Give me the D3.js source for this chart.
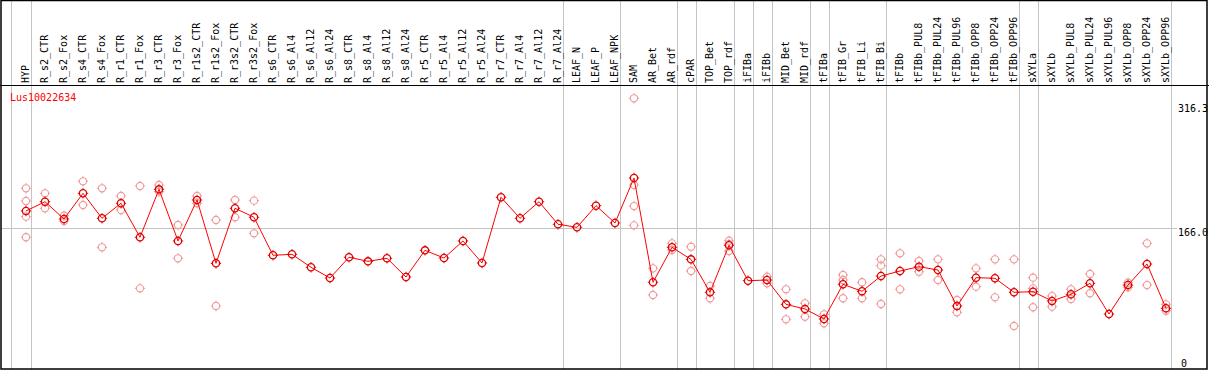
<!DOCTYPE html>
<html>
<head>
<meta charset="utf-8">
<script src="https://cdn.jsdelivr.net/npm/d3@7"></script>
<style>
	body { margin: 0; background: #fff; }
	text { font-family: "DejaVu Sans Mono", monospace; font-size: 10px; }
</style>
</head>
<body>
<div id="chart"></div>
<script>
const geneName = "Lus10022634";

const LABELS = [
	"HYP", "R_s2_CTR", "R_s2_Fox", "R_s4_CTR", "R_s4_Fox", "R_r1_CTR", "R_r1_Fox",
	"R_r3_CTR", "R_r3_Fox", "R_r1s2_CTR", "R_r1s2_Fox", "R_r3s2_CTR", "R_r3s2_Fox",
	"R_s6_CTR", "R_s6_Al4", "R_s6_Al12", "R_s6_Al24", "R_s8_CTR", "R_s8_Al4",
	"R_s8_Al12", "R_s8_Al24", "R_r5_CTR", "R_r5_Al4", "R_r5_Al12", "R_r5_Al24",
	"R_r7_CTR", "R_r7_Al4", "R_r7_Al12", "R_r7_Al24", "LEAF_N", "LEAF_P", "LEAF_NPK",
	"SAM", "AR_Bet", "AR_rdf", "cPAR", "TOP_Bet", "TOP_rdf", "iFIBa", "iFIBb",
	"MID_Bet", "MID_rdf", "tFIBa", "tFIB_Gr", "tFIB_Li", "tFIB_Bi", "tFIBb",
	"tFIBb_PUL8", "tFIBb_PUL24", "tFIBb_PUL96", "tFIBb_OPP8", "tFIBb_OPP24",
	"tFIBb_OPP96", "sXYLa", "sXYLb", "sXYLb_PUL8", "sXYLb_PUL24", "sXYLb_PUL96",
	"sXYLb_OPP8", "sXYLb_OPP24", "sXYLb_OPP96",
];

// mean expression per sample
const MEANS = [
	186.1, 196.8, 176.8, 206.5, 177.6, 195.0, 155.7, 211.1, 151.4, 198.8, 125.6,
	189.2, 178.8, 134.9, 136.0, 121.0, 108.6, 132.6, 127.9, 131.4, 109.8, 140.6,
	131.7, 151.4, 126.0, 201.9, 177.6, 196.8, 170.7, 167.2, 192.2, 172.2, 224.2,
	103.7, 144.1, 130.2, 92.1, 146.4, 105.5, 106.3, 78.2, 72.8, 61.3, 101.4, 93.3,
	110.9, 116.7, 121.7, 117.9, 76.3, 109.0, 108.3, 92.1, 92.8, 82.1, 89.8, 102.5,
	67.0, 100.5, 124.8, 73.6,
];

// individual replicates per sample
const REPLICATES = [
	[212.3, 197.6, 179.5, 155.7], [206.5, 189.2], [180.6, 174.5], [220.4, 193.0],
	[212.3, 144.1], [203.4, 187.2], [215.0, 96.7], [216.1, 208.4], [169.9, 131.4],
	[203.4, 195.0], [175.7, 76.3], [198.8, 178.8], [198.0, 160.3],
	[], [], [], [], [], [], [], [], [], [], [], [], [], [], [], [], [], [], [],
	[316.3, 216.1, 191.8, 169.5], [119.8, 89.0], [148.7, 141.0], [144.8, 116.7],
	[99.4, 85.2], [151.7, 147.9, 139.8], [], [110.1, 102.5], [95.6, 60.9],
	[79.4, 63.9], [66.7, 56.3], [112.1, 106.3, 85.2], [103.7, 85.2],
	[130.2, 122.9, 78.6], [137.2, 95.6], [128.3, 115.9], [130.2, 106.3],
	[83.2, 69.0], [119.8, 98.6], [130.2, 86.3], [130.2, 53.2],
	[109.0, 96.7, 74.8], [87.8, 75.5], [95.6, 84.4], [113.3, 91.0], [],
	[103.2, 97.9], [148.7, 100.5], [78.2, 70.8],
];

// a separator line follows each of these samples
const GROUP_ENDS = [
	"HYP", "R_r7_Al24", "LEAF_NPK", "AR_rdf", "cPAR", "TOP_rdf", "iFIBa", "iFIBb",
	"MID_rdf", "tFIBa", "tFIB_Bi", "tFIBb_OPP96", "sXYLa", "sXYLb_OPP96",
];

const Y_TICKS = [316.3, 166.0, 0];
const GRID_VALUES = [166.0];

const w = 1209;
const h = 370;
const headerBottom = 85;

const svg = d3
	.select("#chart")
	.append("svg")
	.attr("width", w)
	.attr("height", h);

svg.append("rect").attr("width", w).attr("height", h).attr("fill", "#fff");

const xScale = d3.scalePoint().domain(LABELS).range([26, 1166]);
const yScale = d3.scaleLinear().domain([0, 316.3]).range([372, 98.3]);

// vertical separators, full height
const sepX = [xScale(LABELS[0]) - 15.3].concat(
	GROUP_ENDS.map((l) => xScale(l) + 4.7)
);
svg
	.selectAll(".vsep")
	.data(sepX)
	.enter()
	.append("line")
	.attr("class", "vsep")
	.attr("x1", (d) => Math.round(d) + 0.5)
	.attr("x2", (d) => Math.round(d) + 0.5)
	.attr("y1", 0)
	.attr("y2", h)
	.attr("stroke", "#c4c4c4")
	.attr("stroke-width", 1);

svg
	.selectAll(".hgrid")
	.data(GRID_VALUES)
	.enter()
	.append("line")
	.attr("class", "hgrid")
	.attr("x1", 1)
	.attr("x2", 1177)
	.attr("y1", (d) => Math.round(yScale(d)) + 0.5)
	.attr("y2", (d) => Math.round(yScale(d)) + 0.5)
	.attr("stroke", "#c4c4c4")
	.attr("stroke-width", 1);

// column labels
svg
	.selectAll(".collabel")
	.data(LABELS)
	.enter()
	.append("text")
	.attr("class", "collabel")
	.attr("transform", (d) => "translate(" + (xScale(d) + 3) + "," + 83 + ") rotate(-90)")
	.attr("text-anchor", "start")
	.attr("fill", "#000")
	.text((d) => d);

// right axis labels
svg
	.selectAll(".ylabel")
	.data(Y_TICKS)
	.enter()
	.append("text")
	.attr("class", "ylabel")
	.attr("x", (d) => (d === 0 ? 1181 : 1178))
	.attr("y", (d) => Math.min(Math.max(yScale(d), 104.7), 359) + 7.5)
	.attr("fill", "#000")
	.text((d) => (d === 0 ? "0" : d.toFixed(1)));

svg
	.append("text")
	.attr("x", 10)
	.attr("y", 101)
	.attr("fill", "#ff0000")
	.text(geneName);

function marker(g, cx, cy, color, sw) {
	const r = 3.6;
	g.append("circle")
		.attr("cx", cx)
		.attr("cy", cy)
		.attr("r", r)
		.attr("fill", "none")
		.attr("stroke", color)
		.attr("stroke-width", sw);
	[[0, -1], [0, 1], [-1, 0], [1, 0]].forEach(([dx, dy]) => {
		g.append("line")
			.attr("x1", cx + dx * r)
			.attr("y1", cy + dy * r)
			.attr("x2", cx + dx * (r + 1.6))
			.attr("y2", cy + dy * (r + 1.6))
			.attr("stroke", color)
			.attr("stroke-width", 1);
	});
}

// replicate points
const repG = svg.append("g");
REPLICATES.forEach((reps, i) => {
	reps.forEach((v) => {
		marker(repG, xScale(LABELS[i]), yScale(v), "#f09a9a", 1.1);
	});
});

// mean line
const line = d3
	.line()
	.x((d, i) => xScale(LABELS[i]))
	.y((d) => yScale(d));

svg
	.append("path")
	.datum(MEANS)
	.attr("d", line)
	.attr("fill", "none")
	.attr("stroke", "#ff0000")
	.attr("stroke-width", 1);

const meanG = svg.append("g");
MEANS.forEach((v, i) => {
	marker(meanG, xScale(LABELS[i]), yScale(v), "#e00000", 1.3);
});

// frame
svg
	.append("line")
	.attr("x1", 0)
	.attr("x2", w)
	.attr("y1", headerBottom + 0.5)
	.attr("y2", headerBottom + 0.5)
	.attr("stroke", "#000");

svg
	.append("rect")
	.attr("x", 1)
	.attr("y", 0.5)
	.attr("width", 1206)
	.attr("height", 368.5)
	.attr("fill", "none")
	.attr("stroke", "#000")
	.attr("stroke-width", 1.5);
</script>
</body>
</html>
